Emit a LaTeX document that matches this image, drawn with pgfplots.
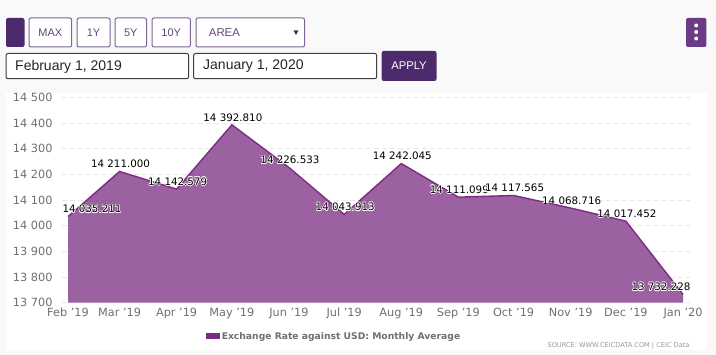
\documentclass[border=0pt]{standalone}
\usepackage{pgfplots}
\pgfplotsset{compat=1.18}
\usepackage{pgfplotstable}
\usepackage{fontspec}
\setmainfont{DejaVu Sans}
\newfontfamily\arial{Liberation Sans}
\definecolor{pagebg}{HTML}{F9F9F9}
\definecolor{series}{HTML}{7B2D82}
\definecolor{darkbtn}{HTML}{4D2A6B}
\definecolor{kebab}{HTML}{6D3A85}
\definecolor{btnedge}{HTML}{7F6598}
\definecolor{btntext}{HTML}{5E4A7C}
\definecolor{tick}{HTML}{707070}
\definecolor{gridc}{HTML}{E8E8E8}
\newcommand\hc[3]{\rlap{\hspace{#1}\raisebox{#2}{\textcolor{white}{#3}}}}
\newcommand\halo[1]{\hc{.7pt}{0pt}{#1}\hc{-.7pt}{0pt}{#1}\hc{0pt}{.7pt}{#1}\hc{0pt}{-.7pt}{#1}\hc{.5pt}{.5pt}{#1}\hc{-.5pt}{.5pt}{#1}\hc{.5pt}{-.5pt}{#1}\hc{-.5pt}{-.5pt}{#1}\textcolor{black}{#1}}
\pgfplotstableread[col sep=comma]{
day,rate,dx,label
0,14035.211,24,14 035.211
28,14211.000,1,14 211.000
59,14142.579,1,14 142.579
89,14392.810,1,14 392.810
120,14226.533,1,14 226.533
150,14043.913,1,14 043.913
181,14242.045,1,14 242.045
212,14111.099,1,14 111.099
242,14117.565,1,14 117.565
273,14068.716,1,14 068.716
303,14017.452,1,14 017.452
334,13732.228,-22,13 732.228
}\ratetable
\begin{document}
\begin{tikzpicture}
\fill[pagebg] (0,0) rectangle (716pt,355pt);
\begin{scope}[x=1pt,y=-1pt,yshift=355pt,rounded corners=2pt]
\fill[white,sharp corners] (6,93) rectangle (707,350);
\fill[darkbtn] (6,18) rectangle (24.5,47);
\foreach \a/\b/\t in {29/71.7/MAX,77/110/1Y,115/146.6/5Y,152/190.4/10Y}{
  \draw[btnedge,fill=white,line width=1pt] (\a,18) rectangle (\b,47);
  \node[text=btntext,font=\arial\fontsize{11}{12}\selectfont] at ({(\a+\b)/2},32.5) {\t};
}
\draw[btnedge,fill=white,line width=1pt] (196,18) rectangle (304.6,47);
\node[text=btntext,font=\arial\fontsize{11.4}{12}\selectfont,anchor=west,inner sep=0] at (208.7,32.5) {AREA};
\fill[black!75,sharp corners] (293.5,30.5) -- (298.5,30.5) -- (296,35) -- cycle;
\fill[kebab] (686,18) rectangle (706.4,47);
\foreach \yy in {25.5,32,38.5}{\fill[white,sharp corners] (696.2,\yy) circle (2pt);}
\draw[black!75,fill=white,line width=1pt] (6,53.5) rectangle (188.6,78.7);
\draw[black!75,fill=white,line width=1pt] (193.6,53.5) rectangle (376.7,78.7);
\node[text=black!85,font=\arial\fontsize{14}{15}\selectfont,anchor=west,inner sep=0] at (15,66.5) {February 1, 2019};
\node[text=black!85,font=\arial\fontsize{14}{15}\selectfont,anchor=west,inner sep=0] at (203,66.5) {January 1, 2020};
\fill[darkbtn] (381.7,51) rectangle (436.5,81);
\node[text=white,font=\arial\fontsize{11.2}{12}\selectfont] at (409,66) {APPLY};
\node[text=black!40,font=\fontsize{6.6}{7}\selectfont,anchor=east,inner sep=0] at (689.7,345.7) {SOURCE: WWW.CEICDATA.COM | CEIC Data};
\end{scope}
\begin{axis}[
  at={(62pt,52.3pt)},anchor=south west,
  scale only axis,width=628pt,height=205.4pt,
  xmin=-3.26,xmax=337.8,ymin=13700,ymax=14500,
  axis line style={draw=none},
  major tick length=0pt,
  tick style={draw=none},
  ymajorgrids,
  grid style={gridc,dashed,line width=0.8pt,dash pattern=on 5pt off 3pt},
  ytick={13700,13800,13900,14000,14100,14200,14300,14400,14500},
  scaled y ticks=false,
  xtick={0,28,59,89,120,150,181,212,242,273,303,334},
  xticklabels={Feb '19,Mar '19,Apr '19,May '19,Jun '19,Jul '19,Aug '19,Sep '19,Oct '19,Nov '19,Dec '19,Jan '20},
  /pgf/number format/.cd,1000 sep={\ },fixed,assume math mode=true,
  /pgfplots/.cd,
  ticklabel style={text=tick,font=\fontsize{11.3}{12}\selectfont},
  yticklabel style={xshift=-6pt},
  xticklabel style={yshift=-1.5pt},
  legend style={at={(272pt,-34pt)},anchor=center,draw=none,fill=none,
    font=\bfseries\fontsize{9.2}{10}\selectfont,text=tick,inner sep=0pt},
  legend cell align=left,
  clip mode=individual,
]
\addplot[draw=none,fill=series,fill opacity=0.75,
  legend image code/.code={\fill[series,fill opacity=1] (0pt,-2.8pt) rectangle (14pt,3.2pt);}]
  table[x=day,y=rate]{\ratetable} \closedcycle;
\addlegendentry{Exchange Rate against USD: Monthly Average}
\addplot[forget plot,draw=series,line width=1.4pt,mark=none,
  point meta=explicit symbolic,
  visualization depends on={\thisrow{dx}\as\dxv},
  nodes near coords={\halo{\pgfplotspointmeta}},
  every node near coord/.append style={anchor=center,inner sep=0pt,xshift=\dxv pt,yshift=7.5pt,
    font=\fontsize{10.3}{11}\selectfont},
] table[x=day,y=rate,meta=label]{\ratetable};
\end{axis}
\end{tikzpicture}
\end{document}
